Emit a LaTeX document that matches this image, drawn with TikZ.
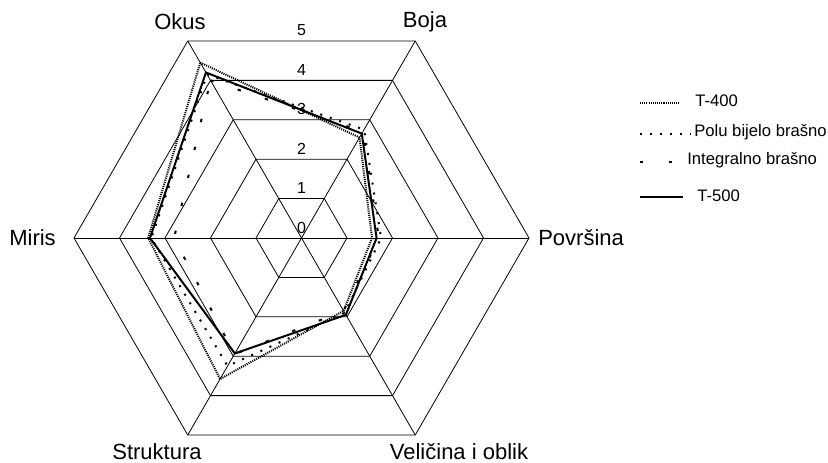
\documentclass[tikz,border=0pt]{standalone}
\usepackage{fontspec}
\setmainfont{Liberation Sans}
\newcommand\radarseries[7]{\draw[#1] (240:#2*45.5) -- (300:#3*45.5) -- (0:#4*45.5) -- (60:#5*45.5) -- (120:#6*45.5) -- (180:#7*45.5) -- cycle;}
\begin{document}
\begin{tikzpicture}[x=0.75pt,y=-0.75pt,
  grid/.style={line width=0.6pt,black},
  axlabel/.style={font=\fontsize{16.5}{18}\selectfont,inner sep=0pt},
  scalelabel/.style={font=\fontsize{12}{13}\selectfont,inner sep=0pt},
  legtext/.style={font=\fontsize{12.5}{14}\selectfont,inner sep=0pt,anchor=west},
  tfour/.style={line width=1.5pt,dash pattern=on 0.8pt off 0.8pt},
  polu/.style={line width=1.5pt,dash pattern=on 1.5pt off 6pt},
  integ/.style={line width=1.5pt,dash pattern=on 2.5pt off 19pt},
  tfive/.style={line width=1.5pt},
]
\useasboundingbox (0,0) rectangle (828,463);
\begin{scope}[shift={(301.5,238)}]
  \foreach \l in {1,...,5}
    \draw[grid] (0:\l*45.5) -- (60:\l*45.5) -- (120:\l*45.5) -- (180:\l*45.5) -- (240:\l*45.5) -- (300:\l*45.5) -- cycle;
  \draw[grid] (0:227.5) -- (180:227.5);
  \draw[grid] (60:227.5) -- (240:227.5);
  \draw[grid] (120:227.5) -- (300:227.5);
  \foreach \l in {0,...,5}
    \node[scalelabel] (s\l) at (0,-\l*39.4-10.5) {\l};
  % Okus, Boja, Povrsina, Velicina, Struktura, Miris
  \radarseries{tfour}{4.45}{2.55}{1.55}{1.85}{3.58}{3.37}
  \radarseries{polu}{4.15}{2.75}{1.75}{1.9}{3.25}{3.3}
  \radarseries{integ}{4.0}{2.7}{1.7}{1.85}{2.95}{2.8}
  \radarseries{tfive}{4.2}{2.65}{1.65}{1.95}{2.93}{3.33}
\end{scope}
\node[axlabel] (okus) at (180,22) {Okus};
\node[axlabel] (boja) at (425,22) {Boja};
\node[axlabel,anchor=west] (povrsina) at (538,238) {Površina};
\node[axlabel,anchor=east] (miris) at (56,238) {Miris};
\node[axlabel] (struktura) at (157,452) {Struktura};
\node[axlabel] (velicina) at (459,452) {Veličina i oblik};
% legend
\coordinate (l1a) at (640,102.7); \coordinate (l1b) at (680,102.7);
\coordinate (l2a) at (640,134.3); \coordinate (l2b) at (691,134.3);
\coordinate (l3a) at (640,161.7); \coordinate (l3b) at (672,161.7);
\coordinate (l4a) at (640,197.3); \coordinate (l4b) at (683,197.3);
\draw[tfour] (l1a) -- (l1b);
\draw[polu] (l2a) -- (l2b);
\draw[integ] (l3a) -- (l3b);
\draw[tfive] (l4a) -- (l4b);
\node[legtext] (t1) at (695,101) {T-400};
\node[legtext] (t2) at (694,132) {Polu bijelo brašno};
\node[legtext] (t3) at (687,160) {Integralno brašno};
\node[legtext] (t4) at (697,196) {T-500};
\end{tikzpicture}
\end{document}
